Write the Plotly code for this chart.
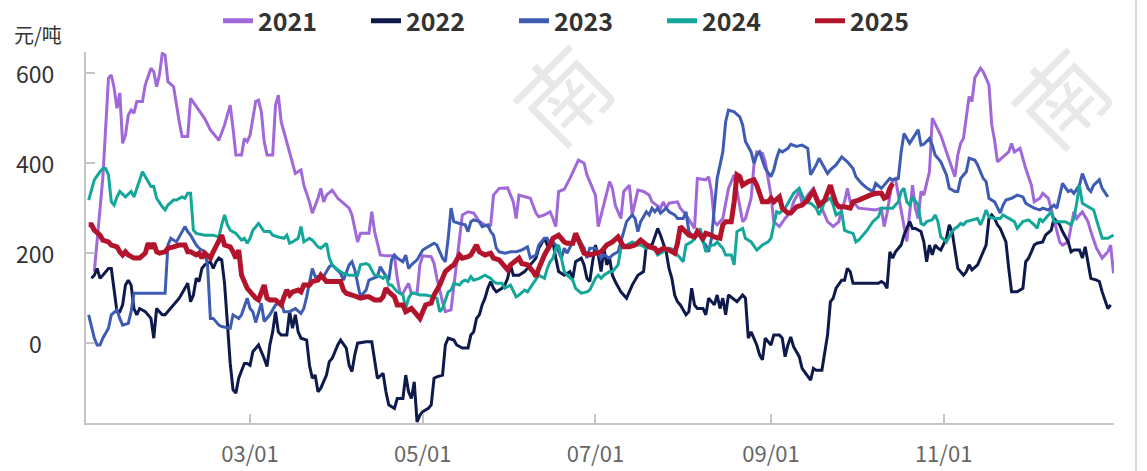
import pandas as pd
import plotly.graph_objects as go

# ---------------- data (day of year offset from Jan 1, value in 元/吨) ----------------
years = ["2021", "2022", "2023", "2024", "2025"]
colors = ["#A068D8", "#0E1A4B", "#3D5CB2", "#13A79A", "#B3132B"]
widths = [3, 3, 3, 3, 5]

d2021 = [4,7,9,10,11,12,13,14,15,16,17,18,19,21,22,24,25,26,27,28,29,30,32,33,34,35,37,38,40,43,45,48,50,52,53,54,56,57,58,59,61,62,63,64,65,67,68,69,70,72,74,75,77,78,80,81,83,84,85,86,88,90,92,94,95,96,97,98,101,102,103,105,107,110,111,112,113,115,116,118,119,120,123,124,125,127,128,130,131,133,134,136,138,140,143,144,145,147,150,152,153,154,156,158,160,161,163,165,166,167,168,170,172,174,175,177,178,180,181,182,184,186,187,188,190,191,193,194,196,198,200,201,204,205,206,207,210,211,213,216,217,220,221,222,223,224,226,228,230,231,232,233,234,236,237,238,240,241,242,243,244,246,248,250,251,253,254,256,258,260,261,263,265,267,268,269,270,271,273,274,280,282,283,284,286,287,288,291,293,294,295,296,297,299,300,302,303,305,308,309,310,311,313,314,315,317,318,320,321,322,323,325,327,328,329,331,332,333,335,336,338,339,341,342,344,345,346,348,350,351,352,353,355,356,358,360,362,363,364]
v2021 = [158,366,588,595,566,521,555,443,461,506,517,510,536,536,573,610,602,569,595,643,639,580,569,528,491,458,458,543,524,498,473,450,484,528,476,417,417,454,447,461,536,539,513,447,417,417,528,550,491,447,402,376,384,350,313,288,321,343,313,328,339,321,310,299,284,254,224,243,243,291,247,195,193,193,143,110,110,132,110,110,173,193,191,176,143,91,69,73,128,224,284,291,288,269,258,261,328,343,344,313,276,328,324,321,288,280,284,291,276,258,336,341,365,391,406,399,373,343,328,258,306,358,343,306,276,336,350,284,339,336,328,313,299,313,299,310,313,299,284,254,365,362,369,336,269,262,276,343,373,336,299,269,276,321,395,424,421,402,365,328,269,258,276,291,313,336,310,328,343,313,299,269,258,269,299,313,343,313,306,299,295,299,258,288,362,365,328,225,350,299,276,336,328,380,499,473,461,424,369,417,443,454,547,536,588,610,602,573,484,450,402,413,424,443,424,432,410,387,350,313,321,332,321,295,250,224,217,224,291,276,284,291,269,247,210,188,202,217,154]

d2022 = [3,4,5,6,7,9,10,11,12,13,14,15,16,17,18,19,20,22,23,24,25,26,27,28,29,30,32,34,36,37,38,39,40,41,42,43,45,46,47,48,49,50,51,52,53,54,55,56,57,58,59,60,62,64,65,66,67,68,69,70,72,73,74,75,76,77,79,80,81,82,83,84,86,87,88,90,91,93,94,95,96,97,100,102,103,104,106,107,108,110,111,113,114,115,116,117,118,119,120,122,123,124,125,127,128,129,131,132,134,136,137,138,139,140,141,142,143,144,145,146,148,149,150,151,152,154,156,158,160,161,163,164,166,167,168,170,172,173,174,176,177,178,179,180,181,182,183,184,185,186,187,188,190,192,193,194,196,198,199,201,203,204,206,207,208,209,210,211,213,214,215,216,217,219,220,221,223,224,225,226,227,228,231,233,234,235,236,237,238,239,240,241,243,244,246,247,248,249,250,251,253,254,256,257,258,259,261,263,264,265,266,268,269,270,271,272,281,282,283,284,285,286,287,289,290,291,292,293,294,296,297,298,299,300,301,302,303,305,306,307,308,309,311,312,313,314,316,317,318,319,320,321,322,323,324,326,327,328,330,332,333,334,335,336,337,339,340,342,343,344,345,346,348,349,350,352,353,354,355,356,358,359,360,362,363]
v2022 = [143,150,165,143,150,165,165,113,69,69,84,128,139,128,76,62,76,69,62,54,10,76,69,62,62,69,84,99,121,132,91,106,143,136,165,173,180,165,180,188,184,132,43,-46,-105,-112,-79,-61,-46,-46,-50,-20,-5,-35,-53,-5,24,69,24,17,17,69,32,62,24,10,6,-50,-79,-72,-109,-101,-72,-42,-35,-5,6,-12,-50,-64,-27,-1,2,2,-42,-79,-68,-109,-138,-146,-124,-124,-72,-109,-124,-87,-176,-161,-153,-146,-138,-79,-76,-72,-5,10,6,-5,-12,-12,17,24,54,62,84,99,121,136,121,113,121,128,143,173,150,150,158,173,188,210,232,217,224,188,158,150,158,143,180,188,173,143,136,180,217,195,158,210,173,188,150,136,113,99,113,128,150,158,217,217,254,239,202,165,143,106,91,84,62,69,121,84,76,76,62,99,84,106,76,99,62,106,91,106,99,10,24,10,-5,-27,-38,10,-5,17,17,10,-31,-5,13,-9,-31,-57,-76,-83,-57,-61,-61,17,91,99,121,139,139,165,158,132,132,136,132,121,202,188,202,217,239,254,269,254,254,247,224,180,217,195,217,210,206,232,262,247,202,165,150,158,173,162,173,188,202,217,276,284,276,262,254,224,165,113,113,121,180,188,202,217,221,224,239,250,276,269,262,247,224,202,206,206,188,213,173,143,139,136,113,76,84]

d2023 = [2,4,5,6,7,9,10,12,13,14,16,17,18,29,30,31,33,35,36,37,38,40,41,43,44,45,46,48,49,52,53,55,56,58,59,60,61,63,64,66,68,70,71,73,75,77,78,79,81,82,85,87,88,91,92,94,95,96,97,98,100,101,104,105,106,108,109,110,111,113,114,115,116,118,119,120,121,124,125,127,128,129,130,131,133,135,136,137,138,140,141,143,144,145,146,147,149,151,153,155,157,158,160,161,163,164,165,166,167,169,170,171,173,175,177,178,179,181,183,184,186,187,189,191,192,194,195,196,197,199,200,201,202,203,204,206,207,209,210,212,213,214,216,217,219,220,221,222,223,224,226,227,228,230,232,233,234,236,237,238,239,240,241,243,244,245,246,247,249,250,252,254,256,257,259,260,262,263,264,266,268,270,272,273,275,277,279,280,282,283,285,286,288,289,290,292,294,295,296,297,299,300,301,303,305,306,308,309,310,312,313,315,316,318,319,320,322,323,324,325,326,328,330,332,333,334,336,338,339,341,343,344,345,346,348,349,350,352,353,355,356,357,359,360,362]
v2023 = [62,10,-5,-5,10,32,62,73,54,39,43,69,110,110,217,232,224,247,258,247,239,217,210,202,173,54,54,39,36,32,62,54,62,99,76,69,45,88,47,62,84,91,69,69,76,65,76,102,165,147,147,169,173,154,139,173,180,162,132,102,117,139,147,169,158,139,184,195,188,180,195,165,173,184,195,206,210,221,217,188,180,232,299,269,265,262,247,269,273,269,258,262,247,239,210,202,199,202,202,206,213,188,195,217,232,232,217,224,217,188,210,199,224,232,210,188,210,210,188,195,188,195,202,247,269,284,276,247,269,291,284,299,291,299,288,299,291,284,276,276,291,247,232,247,224,217,202,232,299,365,424,491,517,513,502,484,447,424,399,417,424,406,387,369,384,410,428,424,432,441,436,439,432,373,395,410,387,376,384,395,413,402,387,369,354,343,336,354,343,350,365,362,365,424,465,443,465,473,439,441,454,439,417,402,373,343,336,336,365,380,410,406,395,365,358,321,313,302,288,306,317,321,328,324,310,306,299,295,299,295,306,299,328,354,336,339,332,350,376,343,336,350,362,343,324]

d2024 = [2,3,4,6,7,8,9,10,11,12,13,15,17,18,19,20,21,23,24,25,26,28,29,30,32,33,35,36,37,38,39,40,43,46,48,49,50,51,52,54,56,57,58,59,60,62,64,66,67,69,71,72,73,74,76,77,78,80,81,83,84,86,87,88,90,92,94,97,98,100,101,103,104,106,107,108,109,111,113,114,115,116,117,119,121,124,125,126,127,129,130,131,133,134,135,136,137,138,140,142,144,145,146,148,149,151,152,153,154,156,157,159,160,161,163,164,165,166,167,168,170,171,173,174,176,178,179,181,182,183,184,186,187,189,190,192,194,196,197,199,200,202,203,205,207,209,210,212,213,215,217,218,220,222,223,224,226,227,229,230,231,233,234,236,238,240,242,243,244,245,246,248,250,251,253,254,255,257,259,260,262,264,265,266,268,269,270,272,273,274,277,279,281,282,284,286,288,289,290,291,292,293,295,296,297,298,300,301,302,303,305,307,308,309,310,311,312,314,316,317,318,319,320,322,324,325,327,329,330,332,334,336,337,338,339,341,342,343,347,349,350,351,352,353,355,357,358,359,360,362,364]
v2024 = [317,339,362,380,387,387,373,313,306,324,336,324,336,324,343,358,380,358,347,347,321,302,295,306,317,317,324,321,332,332,250,243,239,239,235,262,284,262,250,243,228,232,221,232,250,265,247,247,239,235,232,239,221,224,232,258,224,232,228,213,210,221,188,173,162,154,150,150,173,176,173,150,150,143,150,128,128,113,106,76,99,110,110,106,106,102,99,69,76,113,117,132,128,136,139,136,147,139,143,150,143,136,132,132,121,128,113,102,106,117,113,132,143,150,143,165,180,188,210,217,158,150,139,121,110,113,117,143,150,143,150,158,158,173,210,217,224,217,217,210,213,206,195,202,210,206,195,180,217,224,239,254,202,217,217,224,210,195,195,173,247,254,232,224,206,217,224,232,262,291,288,299,321,332,343,328,313,310,299,284,313,321,306,284,291,250,247,243,224,228,250,269,280,299,299,299,313,336,343,313,306,324,306,265,262,269,273,284,269,235,224,247,254,258,265,262,269,273,276,262,276,295,280,276,276,284,276,269,254,269,273,262,254,276,269,284,291,269,269,262,276,310,350,310,302,295,273,254,232,232,239]

d2025 = [2,3,4,6,7,9,10,12,13,14,15,16,18,20,22,23,24,25,26,27,29,30,32,34,36,37,38,40,41,42,43,45,46,48,49,50,52,53,54,55,56,58,59,61,62,64,65,66,68,70,71,72,73,74,76,77,78,80,81,83,84,85,86,88,90,91,92,93,95,97,98,100,101,103,105,106,107,108,110,111,113,114,116,117,118,119,120,121,123,124,126,128,130,131,133,134,136,137,138,139,140,142,144,145,147,149,150,151,153,154,155,157,159,160,161,163,165,166,168,170,171,173,174,176,177,179,181,183,185,187,189,190,191,193,195,197,199,200,202,203,205,207,209,210,211,213,214,216,217,219,220,222,223,225,226,227,229,230,231,232,233,235,237,238,239,240,242,243,244,246,247,249,250,252,254,256,257,258,259,260,262,263,264,265,266,267,269,271,272,274,276,278,280,282,283,284,285,286]
v2025 = [262,262,250,239,228,224,217,213,202,195,202,195,188,188,199,221,210,221,202,199,202,210,213,217,217,202,202,195,199,188,199,188,202,224,239,217,213,202,188,206,150,121,113,99,95,128,99,95,95,84,102,117,106,113,117,113,128,128,136,139,150,143,136,136,136,136,117,110,106,102,99,102,102,95,95,102,121,113,102,84,84,69,76,69,62,54,69,84,88,106,128,158,169,173,195,188,191,195,206,217,202,195,199,188,184,169,162,173,184,188,176,173,158,147,165,195,217,232,239,224,221,221,243,217,199,195,199,202,217,224,235,224,213,213,217,228,217,213,210,202,210,206,199,221,258,247,239,235,247,232,243,239,235,232,262,269,269,313,373,369,350,358,362,350,328,313,313,321,313,324,299,288,288,302,306,317,328,336,321,306,317,336,350,328,310,302,302,299,313,317,324,328,332,332,321,324,343,354]

days = [d2021, d2022, d2023, d2024, d2025]
values = [v2021, v2022, v2023, v2024, v2025]

tick_dates = ["2025-03-01", "2025-05-01", "2025-07-01", "2025-09-01", "2025-11-01"]
tick_labels = ["03/01", "05/01", "07/01", "09/01", "11/01"]
y_ticks = [0, 200, 400, 600]

base = pd.Timestamp("2025-01-01")


def to_dates(ds):
    return [base + pd.Timedelta(days=d) for d in ds]


# ---------------- figure ----------------
W, H = 1147, 471
ML, MR, MT, MB = 86, 33, 52, 48
PW, PH = W - ML - MR, H - MT - MB


def px(x):
    return (x - ML) / PW


def py(y):
    return (H - MB - y) / PH


FONT = "Noto Sans CJK SC"
axis_gray = "#c4c4c4"

fig = go.Figure()

# watermark (light)
for ch, cx, cy in [("南", 560, 92), ("南", 1058, 95)]:
    fig.add_annotation(text=ch, xref="paper", yref="paper", x=px(cx), y=py(cy),
                       xanchor="center", yanchor="middle", showarrow=False, textangle=-45,
                       font=dict(size=90, color="rgba(0,0,0,0.09)", family=FONT))

for name, ds, vs, c, w in zip(years, days, values, colors, widths):
    fig.add_trace(go.Scatter(
        x=to_dates(ds), y=vs, name=name, mode="lines", legendgroup=name,
        showlegend=False, line=dict(color=c, width=w), hoverinfo="skip"))
# legend entries (thicker swatches as in the reference)
for name, c in zip(years, colors):
    fig.add_trace(go.Scatter(x=[None], y=[None], name=name, mode="lines",
                             legendgroup=name, line=dict(color=c, width=5)))

fig.update_layout(
    width=W, height=H,
    margin=dict(l=ML, r=MR, t=MT, b=MB, pad=0, autoexpand=False),
    paper_bgcolor="white", plot_bgcolor="white",
    font=dict(family=FONT, color="#333"),
    showlegend=True,
    legend=dict(orientation="h", x=px(218), xanchor="left", y=py(21), yanchor="middle",
                font=dict(size=25, color="#333", family=FONT, weight="bold"),
                entrywidth=103, entrywidthmode="pixels", bgcolor="rgba(0,0,0,0)",
                borderwidth=0),
    xaxis=dict(type="date",
               range=[base + pd.Timedelta(days=1.06), base + pd.Timedelta(days=364.18)],
               tickvals=tick_dates, ticktext=tick_labels,
               showgrid=False, zeroline=False,
               showline=True, linecolor=axis_gray, linewidth=2,
               ticks="outside", ticklen=11, tickcolor="rgba(0,0,0,0)",
               minor=dict(tickvals=tick_dates, ticks="inside", ticklen=9, tickwidth=2,
                          tickcolor=axis_gray, showgrid=False),
               tickfont=dict(size=22, color="#666", family=FONT)),
    yaxis=dict(range=[-178.4, 646], tickvals=y_ticks,
               showgrid=False, zeroline=False, showticklabels=False,
               showline=True, linecolor=axis_gray, linewidth=2,
               ticks="inside", ticklen=9, tickwidth=2, tickcolor=axis_gray),
)

# y tick labels (centered like the reference)
for v in y_ticks:
    fig.add_annotation(text=str(v), xref="paper", yref="y", x=px(35), y=v,
                       xanchor="center", yanchor="middle", showarrow=False,
                       font=dict(size=23, color="#333", family=FONT))

# unit label
fig.add_annotation(text="元/吨", xref="paper", yref="paper", x=px(38), y=py(34),
                   xanchor="center", yanchor="middle",
                   showarrow=False, font=dict(size=20, color="#333", family=FONT))

# right frame line
fig.add_shape(type="line", xref="paper", yref="paper", x0=px(1136), x1=px(1136),
              y0=py(H), y1=py(0), line=dict(color="#dcdcdc", width=2))

fig.write_html("out.html", config={"displayModeBar": False},
               post_script="document.body.style.margin='0';")
